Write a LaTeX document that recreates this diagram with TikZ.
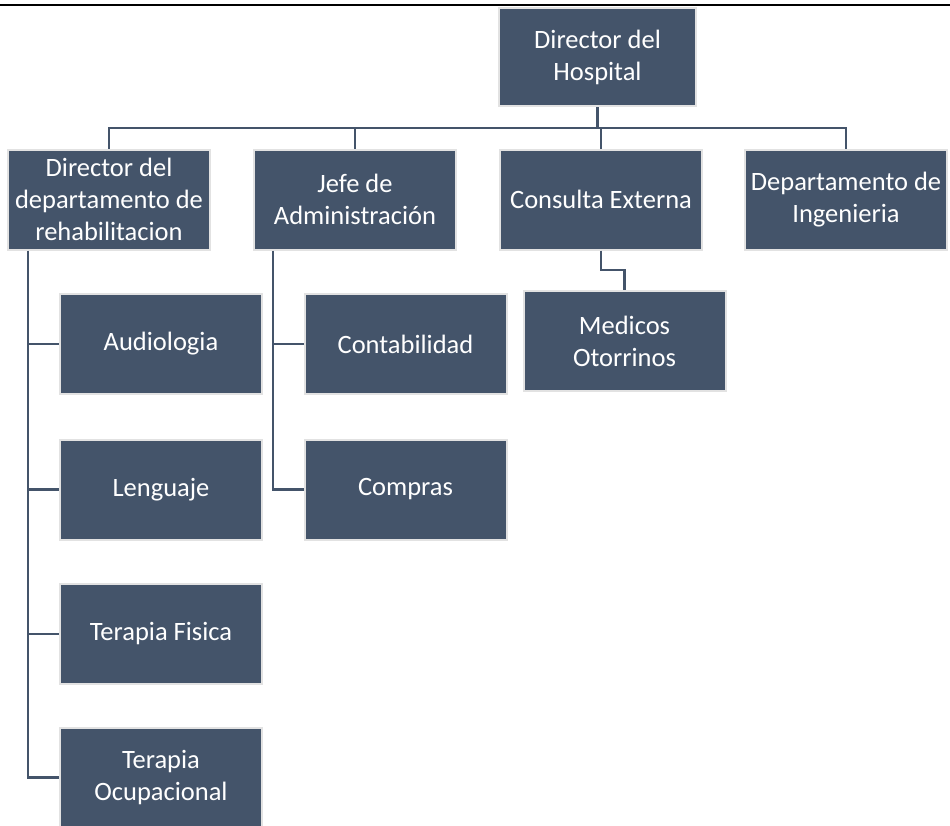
\documentclass[tikz,border=0pt]{standalone}
\usepackage{fontspec}
\setmainfont{Carlito}
\definecolor{slate}{HTML}{44546A}
\definecolor{rim}{HTML}{E2E2E2}
\begin{document}
\begin{tikzpicture}[x=1pt,y=-1pt,
  unit/.style={fill=slate, draw=rim, line width=2pt, text=white,
    align=center, inner sep=0pt, minimum width=#1, minimum height=100pt,
    font=\fontsize{26.5}{32}\selectfont},
  unit/.default=202pt,
  link/.style={draw=slate, line width=2.4pt}]
\useasboundingbox (0,0) rectangle (950,825);
% rule across the top
\draw[line width=2pt] (0,5) -- (950,5);

% boxes
\node[unit=197pt, minimum height=98pt] (hosp) at (597.5,57) {Director del\\Hospital};
\node[unit] (reh)  at (109,199.5) {Director del\\departamento de\\rehabilitacion};
\node[unit] (adm)  at (355,199.5) {Jefe de\\Administración};
\node[unit] (ext)  at (601,199.5) {Consulta Externa};
\node[unit] (ing)  at (846,199.5) {Departamento de\\Ingenieria};

\node[unit] (aud)  at (161,344) {Audiologia};
\node[unit] (len)  at (161,489.5) {Lenguaje};
\node[unit] (fis)  at (161,634) {Terapia Fisica};
\node[unit] (ocu)  at (161,777.5) {Terapia\\Ocupacional};

\node[unit] (con)  at (405.5,344) {Contabilidad};
\node[unit] (com)  at (405.5,489.5) {Compras};

\node[unit] (med)  at (624.5,341) {Medicos\\Otorrinos};

% connectors
\coordinate (bus) at (0,128);
\draw[link] (hosp.south) -- (hosp.south |- bus);
\draw[link] (reh.north) |- (ing.north |- bus) -- (ing.north);
\draw[link] (adm.north) -- (adm.north |- bus);
\draw[link] (ext.north) -- (ext.north |- bus);

\coordinate (rehx) at (28,0);
\draw[link] (rehx |- reh.south) |- (ocu.west);
\draw[link] (rehx |- aud.west) -- (aud.west);
\draw[link] (rehx |- len.west) -- (len.west);
\draw[link] (rehx |- fis.west) -- (fis.west);

\coordinate (admx) at (273,0);
\draw[link] (admx |- adm.south) |- (com.west);
\draw[link] (admx |- con.west) -- (con.west);

\coordinate (medy) at (0,270);
\draw[link] (ext.south) -- (ext.south |- medy) -| (med.north);
\end{tikzpicture}
\end{document}
